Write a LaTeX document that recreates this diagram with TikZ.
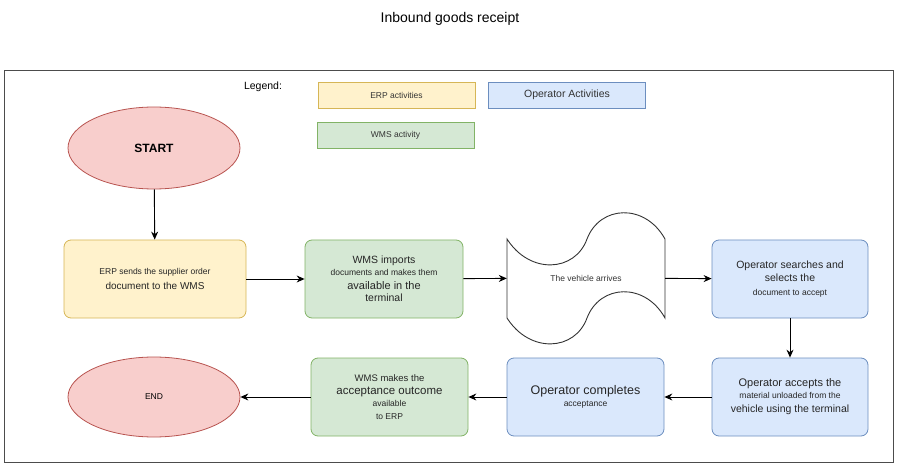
\documentclass[tikz,border=0pt]{standalone}
\usepackage{fontspec}
\setmainfont{Liberation Sans}
\usetikzlibrary{shapes.geometric,arrows.meta}
\definecolor{yf}{HTML}{FFF2CC}\definecolor{ys}{HTML}{D6B656}
\definecolor{gf}{HTML}{D5E8D4}\definecolor{gs}{HTML}{82B366}
\definecolor{bf}{HTML}{DAE8FC}\definecolor{bs}{HTML}{6C8EBF}
\definecolor{rf}{HTML}{F8CECC}\definecolor{rs}{HTML}{B85450}
\begin{document}
\begin{tikzpicture}[x=1pt,y=-1pt,
  box/.style={draw=#1s,fill=#1f,rounded corners=7pt,line width=0.8pt,minimum width=156pt,minimum height=78pt,align=center,text=black!85,inner sep=2pt},
  leg/.style={draw=#1s,fill=#1f,line width=0.7pt,minimum width=157pt,minimum height=26pt,text=black!80},
  ell/.style={ellipse,draw=rs,fill=rf,line width=0.8pt,minimum width=172pt,minimum height=82pt},
  arr/.style={-{Stealth[length=8pt,width=7pt]},line width=0.9pt},
  s/.style={font=\fontsize{8.5}{10}\selectfont},
  b/.style={font=\fontsize{11}{13}\selectfont}]
\useasboundingbox (0,0) rectangle (900,465);
\node[font=\fontsize{14}{16}\selectfont] (title) at (450,19) {Inbound goods receipt};
\node[draw=black!70,line width=0.8pt,minimum width=889pt,minimum height=392pt] (frame) at (448.5,266) {};
\node[font=\fontsize{10.5}{12}\selectfont] (legt) at (263,87) {Legend:};
\node[leg=y,font=\fontsize{8.5}{10}\selectfont] (l1) at (396.5,95) {ERP activities};
\node[leg=b,font=\fontsize{10.5}{12}\selectfont] (l2) at (567,95) {Operator Activities};
\node[leg=g,font=\fontsize{8.5}{10}\selectfont] (l3) at (395.5,135) {WMS activity};
\node[ell,font=\bfseries\fontsize{12}{14}\selectfont] (start) at (154,148) {START};
\node[box=y,minimum width=182pt] (erp) at (155,279) {{\fontsize{8.5}{10}\selectfont ERP sends the supplier order}\\[3pt]{\fontsize{10}{12}\selectfont document to the WMS}};
\node[box=g,minimum width=158pt] (wms) at (384,279) {{\fontsize{10.5}{12}\selectfont WMS imports}\\{\fontsize{8.5}{10}\selectfont documents and makes them}\\[2pt]{\fontsize{11}{13}\selectfont available in the}\\{\fontsize{10.5}{12}\selectfont terminal}};
\draw[line width=0.9pt,black!80] (507,239) .. controls (530,275) and (575,272) .. (587,239) .. controls (600,205) and (645,203) .. (665,239)
  -- (665,318) .. controls (645,282) and (600,284) .. (587,318) .. controls (575,351) and (530,354) .. (507,318) -- cycle;
\node[s,text=black!80,minimum width=158pt,minimum height=79pt] (tape) at (586,278) {The vehicle arrives};
\node[box=b] (srch) at (790,279) {{\fontsize{10.5}{12}\selectfont Operator searches and}\\[1pt]{\fontsize{10.5}{12}\selectfont selects the}\\[2pt]{\fontsize{8.5}{10}\selectfont document to accept}};
\node[box=b] (acc) at (790,397) {{\fontsize{11}{13}\selectfont Operator accepts the}\\{\fontsize{8.5}{10}\selectfont material unloaded from the}\\[2pt]{\fontsize{10.5}{12}\selectfont vehicle using the terminal}};
\node[box=b,minimum width=157pt] (comp) at (585.5,397) {{\fontsize{12.5}{15}\selectfont Operator completes}\\{\fontsize{8.5}{10}\selectfont acceptance}};
\node[box=g,minimum width=157pt] (wout) at (389.5,397) {{\fontsize{9.5}{11}\selectfont WMS makes the}\\[1pt]{\fontsize{11.5}{14}\selectfont acceptance outcome}\\{\fontsize{8.5}{10}\selectfont available}\\[1pt]{\fontsize{8.5}{10}\selectfont to ERP}};
\node[ell,minimum height=80pt,font=\fontsize{8.5}{10}\selectfont] (end) at (154,397) {END};
\draw[arr] (start) -- (erp);
\draw[arr] (erp) -- (wms);
\draw[arr] (wms) -- (tape);
\draw[arr] (tape) -- (srch);
\draw[arr] (srch) -- (acc);
\draw[arr] (acc) -- (comp);
\draw[arr] (comp) -- (wout);
\draw[arr] (wout) -- (end);
\end{tikzpicture}
\end{document}
